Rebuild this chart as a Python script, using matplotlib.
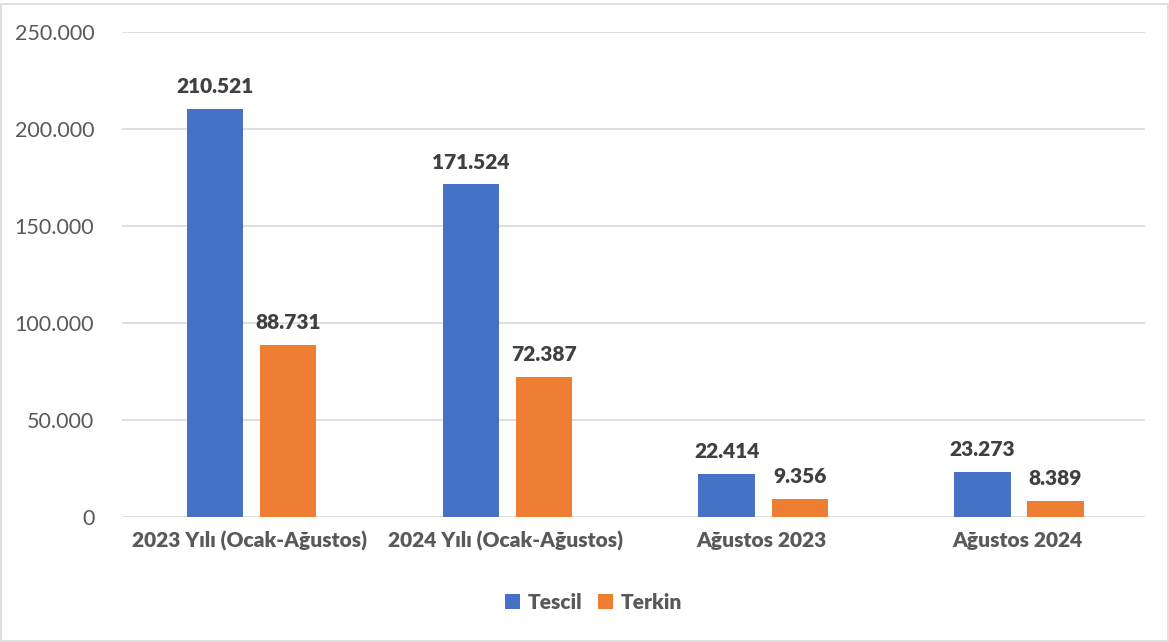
import matplotlib
matplotlib.use("Agg")
from matplotlib import pyplot as plt
from matplotlib.font_manager import FontProperties
from matplotlib.patches import Rectangle
from matplotlib.ticker import FuncFormatter
import numpy as np

categories = ["2023 Yılı (Ocak-Ağustos)", "2024 Yılı (Ocak-Ağustos)", "Ağustos 2023", "Ağustos 2024"]
tescil = [210521, 171524, 22414, 23273]
terkin = [88731, 72387, 9356, 8389]
series_labels = ["Tescil", "Terkin"]
series_colours = ["#4472C4", "#ED7D31"]

plt.rcParams["font.family"] = ["Lato", "DejaVu Sans"]
bold_fp = FontProperties(family="Lato", weight=800, size=15)


def tr_fmt(v, _pos=None):
    return f"{int(round(v)):,}".replace(",", ".")


fig = plt.figure(figsize=(11.69, 6.42), dpi=100)
ax = fig.add_axes([0.1044, 0.1947, 0.8751, 0.7555])

x = np.arange(len(categories))
width = 0.22
offset = 0.143

for vals, lab, col, sign in zip((tescil, terkin), series_labels, series_colours, (-1, 1)):
    bars = ax.bar(x + 0.007 + sign * offset, vals, width, color=col, label=lab, zorder=3)
    for b in bars:
        ax.text(b.get_x() + b.get_width() / 2, b.get_height() + 6500, tr_fmt(b.get_height()),
                ha="center", va="bottom", fontproperties=bold_fp, color="#404040")

ax.set_xlim(-0.5, len(categories) - 0.5)
ax.set_ylim(0, 250000)
ax.set_yticks(np.arange(0, 250001, 50000))
ax.yaxis.set_major_formatter(FuncFormatter(tr_fmt))
ax.grid(axis="y", color="#D9D9D9", linewidth=1.2, zorder=0)
for s in ax.spines.values():
    s.set_visible(False)
ax.tick_params(axis="both", length=0, labelsize=15.5, colors="#595959")
ax.tick_params(axis="y", pad=20)
ax.tick_params(axis="x", pad=10)
ax.set_xticks(x, categories, fontproperties=bold_fp)

leg = fig.legend(*ax.get_legend_handles_labels(), loc="center", bbox_to_anchor=(0.508, 0.062),
                 ncol=2, frameon=False, handlelength=0.7, handleheight=0.7, handletextpad=0.4,
                 columnspacing=0.75, prop=bold_fp)
for t in leg.get_texts():
    t.set_color("#595959")

fig.patches.append(Rectangle((0.001, 0.002), 0.998, 0.991, transform=fig.transFigure,
                             fill=False, edgecolor="#D9D9D9", linewidth=1.2))

fig.savefig("out.png", dpi=100)
